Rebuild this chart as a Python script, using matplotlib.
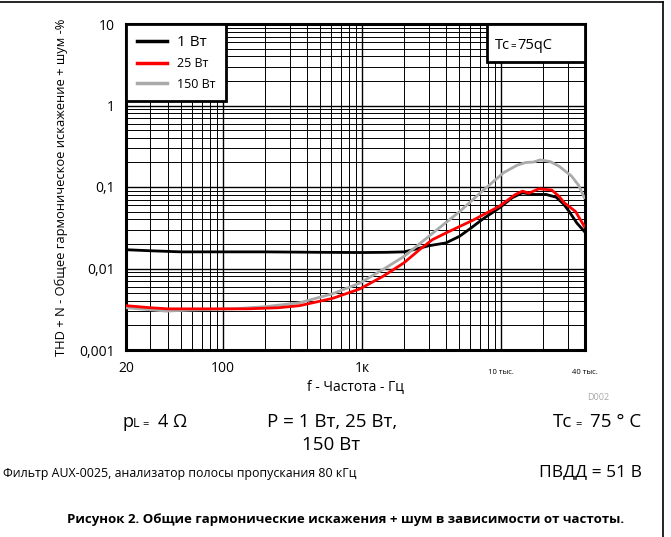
import matplotlib.pyplot as plt
from matplotlib.patches import Rectangle
from matplotlib.lines import Line2D
from matplotlib.ticker import FixedLocator, NullFormatter, LogLocator
from matplotlib.transforms import blended_transform_factory

plt.rcParams['font.family'] = ['Open Sans', 'DejaVu Sans']

# Data
f_1w = [20, 30, 50, 100, 200, 500, 1000, 1500, 2000, 2500, 3000, 4000, 5000,
        6000, 7300, 9700, 12000, 14200, 17000, 21000, 24800, 28000, 30800,
        35000, 39500]
thd_1w = [0.017, 0.0165, 0.016, 0.016, 0.016, 0.0158, 0.0157, 0.0158, 0.016,
          0.0175, 0.019, 0.0206, 0.0248, 0.031, 0.040, 0.0555, 0.074, 0.085,
          0.081, 0.081, 0.075, 0.062, 0.050, 0.036, 0.0286]

f_25w = [20, 30, 40, 80, 150, 250, 355, 612, 957, 1407, 1990, 2580, 3200,
         4000, 6230, 9680, 12500, 14200, 15800, 18600, 23000, 26000, 28400,
         34200, 39500]
thd_25w = [0.0035, 0.0033, 0.0032, 0.0032, 0.0032, 0.0033, 0.0035, 0.0043,
           0.0056, 0.0080, 0.0117, 0.017, 0.0226, 0.0273, 0.039, 0.058, 0.080,
           0.089, 0.084, 0.095, 0.092, 0.077, 0.064, 0.050, 0.033]

f_150w = [20, 39, 60, 118, 200, 355, 612, 957, 1407, 1990, 3200, 5020, 7300,
          10400, 13000, 15000, 17000, 19000, 22500, 26000, 32000, 36000, 39500]
thd_150w = [0.0033, 0.0030, 0.0031, 0.0032, 0.0034, 0.0038, 0.0049, 0.0066,
            0.0097, 0.014, 0.027, 0.050, 0.089, 0.15, 0.185, 0.2, 0.202, 0.215,
            0.205, 0.18, 0.136, 0.105, 0.074]

x_ticks = [20, 100, 1000, 10000, 40000]
x_labels = ["20", "100", "1к", "10 тыс.", "40 тыс."]
y_ticks = [0.001, 0.01, 0.1, 1, 10]
y_labels = ["0,001", "0,01", "0,1", "1", "10"]

fig = plt.figure(figsize=(6.71, 5.37), dpi=100)
W, H = 671, 537
ax = fig.add_axes([126 / W, 1 - 350 / H, (585 - 126) / W, (350 - 24) / H])

ax.plot(f_1w, thd_1w, color="black", lw=2, label="1 Вт", zorder=3)
ax.plot(f_25w, thd_25w, color="#ff0000", lw=2, label="25 Вт", zorder=4)
ax.plot(f_150w, thd_150w, color="#aaaaaa", lw=2, label="150 Вт", zorder=3)

ax.set_xscale("log")
ax.set_yscale("log")
ax.set_xlim(20, 40000)
ax.set_ylim(0.001, 10)

# first three x labels as ticks, the small "тыс." ones placed a bit lower
ax.xaxis.set_major_locator(FixedLocator(x_ticks))
ax.set_xticklabels(x_labels[:3] + ["", ""])
ax.xaxis.set_minor_locator(LogLocator(base=10, subs=range(2, 10), numticks=20))
ax.xaxis.set_minor_formatter(NullFormatter())
ax.yaxis.set_major_locator(FixedLocator(y_ticks))
ax.set_yticklabels(y_labels)
ax.yaxis.set_minor_locator(LogLocator(base=10, subs=range(2, 10), numticks=20))
ax.yaxis.set_minor_formatter(NullFormatter())

trans = blended_transform_factory(ax.transData, ax.transAxes)
for xv, lab in zip(x_ticks[3:], x_labels[3:]):
    ax.text(xv, -0.068, lab, transform=trans, fontsize=5.5, ha="center",
            va="center")

for lbl in ax.get_xticklabels() + ax.get_yticklabels():
    lbl.set_fontsize(10)

ax.tick_params(which="both", length=0, pad=8)
ax.grid(which="major", color="black", lw=1.0)
ax.grid(which="minor", color="black", lw=0.7)
for s in ax.spines.values():
    s.set_linewidth(2.2)

ax.set_xlabel("f - Частота - Гц", fontsize=10, labelpad=2)
ax.set_ylabel("THD + N - Общее гармоническое искажение + шум -%", fontsize=9.3,
              labelpad=8)

leg = ax.legend(loc="upper left", bbox_to_anchor=(0.0, 1.0), fancybox=False,
                framealpha=1, edgecolor="black", borderaxespad=0.0,
                handlelength=2.4, handletextpad=0.8, fontsize=9,
                borderpad=0.85, labelspacing=0.6)
leg.get_frame().set_linewidth(2)
leg.get_texts()[0].set_fontsize(11)
for h in leg.get_lines():
    h.set_linewidth(2.5)
leg.set_zorder(10)

# Tc box in the upper right
tc = Rectangle((0.786, 0.883), 0.214, 0.117, transform=ax.transAxes,
               facecolor="white", edgecolor="black", lw=2, zorder=10)
ax.add_patch(tc)


def ftext(x, y, s, **kw):
    return fig.text(x / W, 1 - y / H, s, **kw)


ftext(495, 49, "Tc", fontsize=10.5, va="baseline", zorder=12)
ftext(510, 49, "=", fontsize=7, va="baseline", zorder=12)
ftext(517, 49, "75qC", fontsize=10.5, va="baseline", zorder=12)

ftext(598, 397, "D002", fontsize=6.5, color="#aaaaaa", ha="center", va="center")
ftext(123, 427, "p", fontsize=13, va="baseline")
ftext(133, 427, "L", fontsize=9, va="baseline")
ftext(142, 427, "=", fontsize=8, va="baseline")
ftext(158, 427, "4 Ω", fontsize=13, va="baseline")
ftext(332, 427, "P = 1 Вт, 25 Вт,", fontsize=13.5, ha="center", va="baseline")
ftext(331, 450, "150 Вт", fontsize=13.5, ha="center", va="baseline")
ftext(553, 427, "Tc", fontsize=13.5, va="baseline")
ftext(575, 427, "=", fontsize=8, va="baseline")
ftext(641, 427, "75 ° C", fontsize=13.5, ha="right", va="baseline")
ftext(3, 474, "Фильтр AUX-0025, анализатор полосы пропускания 80 кГц",
      fontsize=8.9, va="center")
ftext(642, 472, "ПВДД = 51 В", fontsize=12.5, ha="right", va="center")
ftext(346, 519, "Рисунок 2. Общие гармонические искажения + шум в зависимости от частоты.",
      fontsize=9.5, fontweight="bold", ha="center", va="center")

# outer frame (top and right edges)
fig.add_artist(Line2D([0, 663 / W], [1 - 2 / H, 1 - 2 / H], color="black",
                      lw=1.2, transform=fig.transFigure))
fig.add_artist(Line2D([663 / W, 663 / W], [1 - 2 / H, 0], color="black",
                      lw=1.2, transform=fig.transFigure))

fig.savefig("out.png", dpi=100)
